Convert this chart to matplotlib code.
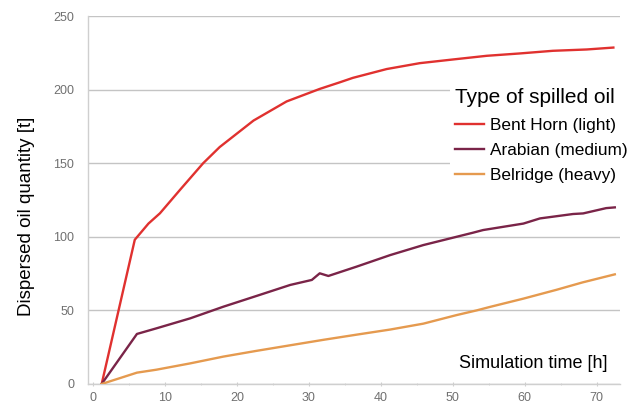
import matplotlib
matplotlib.use("Agg")
import matplotlib.pyplot as plt
from matplotlib.ticker import MultipleLocator

plt.rcParams['font.family'] = ['Liberation Sans', 'DejaVu Sans']

# Data
bent_x = [1.2, 5.8, 7.7, 9.3, 10.7, 12.1, 15.3, 17.6, 22.3, 26.9, 31.5, 34.3, 36.1,
          40.8, 45.4, 50.0, 54.7, 59.3, 63.9, 68.6, 72.3]
bent_y = [0, 98, 109, 116, 124, 132, 150, 161, 179, 192, 200.5, 205, 208,
          214, 218, 220.5, 223, 224.6, 226.4, 227.3, 228.6]

arab_x = [1.2, 6.1, 8.8, 13.5, 18.1, 22.7, 27.4, 30.4, 31.5, 32.7, 36.6, 41.3, 45.9,
          50.5, 52.8, 54.2, 59.8, 62.1, 66.7, 68.1, 71.3, 72.5]
arab_y = [0, 34, 37.8, 44.6, 52.5, 59.8, 67.3, 70.7, 75.2, 73.4, 79.7, 87.6, 94.4,
          100, 102.8, 104.6, 109, 112.5, 115.5, 115.9, 119.5, 120]

belr_x = [1.2, 6.1, 8.8, 13.5, 18.1, 22.7, 27.4, 32.0, 36.6, 41.3, 45.9, 50.5,
          53.3, 55.1, 59.8, 64.4, 68.0, 72.5]
belr_y = [0, 7.7, 9.7, 14, 18.6, 22.5, 26.3, 30, 33.5, 37, 41, 46.8,
          50, 52.3, 58, 64, 69, 74.5]

series_names = ["Bent Horn (light)", "Arabian (medium)", "Belridge (heavy)"]
colors = ["#e0312f", "#7a2448", "#e59a4f"]

x_ticks = [0, 10, 20, 30, 40, 50, 60, 70]
y_ticks = [0, 50, 100, 150, 200, 250]

fig = plt.figure(figsize=(6.4, 4.12), dpi=100)
ax = fig.add_axes([0.1375, 0.068, 0.831, 0.893])

for xs, ys, name, c in zip([bent_x, arab_x, belr_x], [bent_y, arab_y, belr_y],
                           series_names, colors):
    ax.plot(xs, ys, color=c, lw=1.7, label=name, solid_joinstyle='round', zorder=3)

ax.set_xlim(-0.7, 73.2)
ax.set_ylim(0, 250)
ax.set_xticks(x_ticks)
ax.set_yticks(y_ticks)
ax.xaxis.set_minor_locator(MultipleLocator(5))
ax.grid(axis='y', color='#c4c4c4', lw=1.0, zorder=0)

for s in ['top', 'right']:
    ax.spines[s].set_visible(False)
for s in ['left', 'bottom']:
    ax.spines[s].set_color('#cfcfcf')
    ax.spines[s].set_linewidth(1.0)

ax.tick_params(axis='both', labelsize=9, colors='#707070', labelcolor='#707070')
ax.tick_params(axis='y', length=0, pad=10)
ax.tick_params(axis='x', which='major', length=3, direction='inout', color='#cfcfcf', pad=4)
ax.tick_params(axis='x', which='minor', length=2, direction='inout', color='#cfcfcf')

ax.set_ylabel("Dispersed oil quantity [t]", fontsize=13.5, color='black')
ax.yaxis.set_label_coords(-0.099, 0.457)
ax.text(0.977, 0.055, "Simulation time [h]", transform=ax.transAxes,
        ha='right', va='center', fontsize=13, color='black', zorder=5)

leg = ax.legend(title="Type of spilled oil", loc='upper left',
                bbox_to_anchor=(450 / 640, 1 - 83 / 412), bbox_transform=fig.transFigure,
                fontsize=12.4, title_fontsize=15, frameon=True, fancybox=False,
                handlelength=1.7, handletextpad=0.3, labelspacing=0.6,
                borderpad=0.3, borderaxespad=0)
leg.get_frame().set_facecolor('white')
leg.get_frame().set_edgecolor('none')
leg.get_frame().set_alpha(1)
leg._legend_box.align = "left"
leg.set_zorder(10)

fig.savefig("out.png", dpi=100)
